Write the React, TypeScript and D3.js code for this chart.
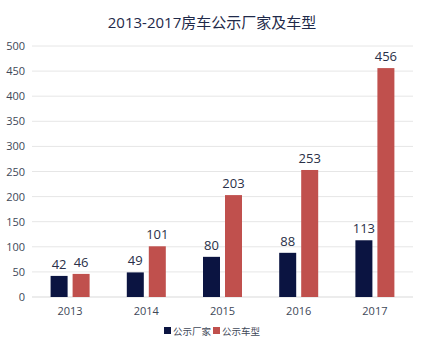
import React from "react";
import * as d3 from "d3";

const years = ["2013", "2014", "2015", "2016", "2017"];
const makers = [42, 49, 80, 88, 113];
const models = [46, 101, 203, 253, 456];
const yTicks = [0, 50, 100, 150, 200, 250, 300, 350, 400, 450, 500];
const seriesNames = ["公示厂家", "公示车型"];
const colors = ["#0b1441", "#c0504d"];

export default function App() {
  const W = 423, H = 343;
  const left = 32, right = 413, top = 46, bottom = 297;
  const x = d3.scaleBand().domain(years).range([left, right]);
  const y = d3.scaleLinear().domain([0, 500]).range([bottom, top]);
  const bw = 17, gap = 5;
  const font = "'Open Sans', 'Noto Sans CJK SC', sans-serif";
  return (
    <svg width={W} height={H} style={{ position: "absolute", left: 0, top: 0 }} fontFamily={font}>
      <rect width={W} height={H} fill="#fff" />
      <text x={212} y={28} textAnchor="middle" fontSize={15} fill="#1f2a4a">
        2013-2017房车公示厂家及车型
      </text>
      {yTicks.map((t) => (
        <g key={t}>
          <line x1={left} x2={right} y1={y(t)} y2={y(t)} stroke={t === 0 ? "#d9d9d9" : "#e6e6e6"} strokeWidth={1} />
          <text x={25} y={y(t) + 4} textAnchor="end" fontSize={11} fill="#404858">
            {t}
          </text>
        </g>
      ))}
      {years.map((yr, i) => {
        const c = (x(yr) as number) + x.bandwidth() / 2;
        const vals = [makers[i], models[i]];
        return (
          <g key={yr}>
            {vals.map((v, j) => {
              const bx = j === 0 ? c - gap / 2 - bw : c + gap / 2;
              return (
                <g key={j}>
                  <rect x={bx} y={y(v)} width={bw} height={bottom - y(v)} fill={colors[j]} />
                  <text x={bx + bw / 2} y={y(v) - 7} textAnchor="middle" fontSize={13} fill="#2a3048">
                    {v}
                  </text>
                </g>
              );
            })}
            <text x={c} y={315} textAnchor="middle" fontSize={11} fill="#404858">
              {yr}
            </text>
          </g>
        );
      })}
      {seriesNames.map((n, j) => {
        const lx = j === 0 ? 164 : 213;
        return (
          <g key={n}>
            <rect x={lx} y={327} width={7} height={7} fill={colors[j]} />
            <text x={lx + 9} y={334.5} fontSize={9.5} fill="#404858">
              {n}
            </text>
          </g>
        );
      })}
    </svg>
  );
}
